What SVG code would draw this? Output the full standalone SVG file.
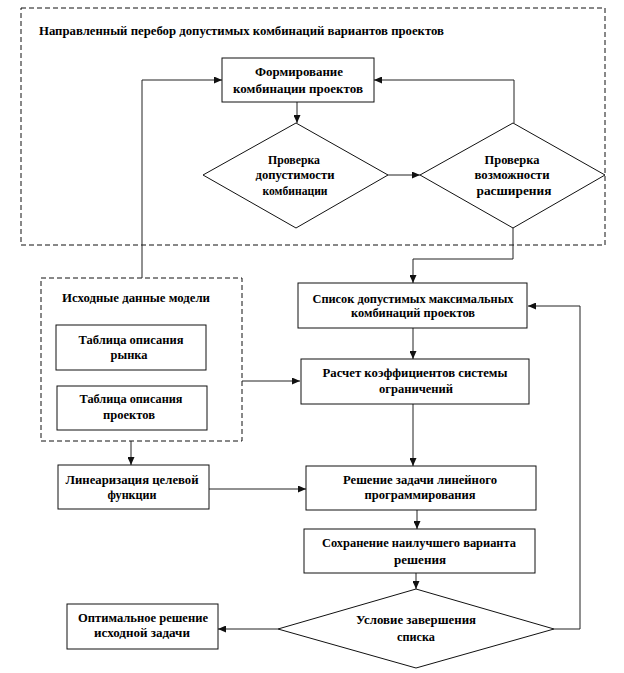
<svg xmlns="http://www.w3.org/2000/svg" width="624" height="673" viewBox="0 0 624 673">
<defs>
<marker id="ah" markerWidth="8" markerHeight="7" refX="8" refY="3.5" orient="auto" markerUnits="userSpaceOnUse">
<path d="M0,0 L8,3.5 L0,7 Z" fill="#111"/>
</marker>
<style>
.b{fill:#fff;stroke:#111;stroke-width:1}
.d{fill:none;stroke:#111;stroke-width:1;stroke-dasharray:5,3}
.c{fill:none;stroke:#222;stroke-width:1}
.a{marker-end:url(#ah)}
text{font-family:"Liberation Serif","Times New Roman",serif;font-weight:bold;font-size:12px;fill:#000;text-anchor:middle}
.l{text-anchor:start}
</style>
</defs>
<rect width="624" height="673" fill="#fff"/>

<g id="frame-search">
<rect class="d" x="21" y="8" width="584" height="237"/>
<text class="l" x="39" y="35" textLength="405" lengthAdjust="spacingAndGlyphs">Направленный перебор допустимых комбинаций вариантов проектов</text>
</g>

<g id="frame-input">
<rect class="d" x="41" y="278" width="201" height="163"/>
<text x="136" y="302" textLength="148" lengthAdjust="spacingAndGlyphs">Исходные данные модели</text>
</g>

<g id="connectors">
<path class="c a" d="M142,278 V80 H222"/>
<path class="c a" d="M514,123 V80 H374"/>
<path class="c a" d="M297,102 V123"/>
<path class="c a" d="M388,175 H420"/>
<path class="c a" d="M513,228 V259 H413 V283"/>
<path class="c a" d="M242,381 H300"/>
<path class="c a" d="M413,328 V359"/>
<path class="c a" d="M413,404 V466"/>
<path class="c a" d="M131,441 V465"/>
<path class="c a" d="M209,489 H306"/>
<path class="c a" d="M417,510 V529"/>
<path class="c a" d="M416,573 V589"/>
<path class="c a" d="M278,629 H218"/>
<path class="c a" d="M554,629 H580 V306 H528"/>
</g>

<g id="n-form">
<rect class="b" x="222" y="58" width="152" height="44"/>
<text x="299" y="76" textLength="88" lengthAdjust="spacingAndGlyphs">Формирование</text>
<text x="298" y="93" textLength="130" lengthAdjust="spacingAndGlyphs">комбинации проектов</text>
</g>

<g id="n-check1">
<polygon class="b" points="296,123 388,175 296,228 203,175"/>
<text x="294" y="164" textLength="52" lengthAdjust="spacingAndGlyphs">Проверка</text>
<text x="295" y="179" textLength="79" lengthAdjust="spacingAndGlyphs">допустимости</text>
<text x="295" y="195" textLength="65" lengthAdjust="spacingAndGlyphs">комбинации</text>
</g>

<g id="n-check2">
<polygon class="b" points="513,123 605,175 513,228 420,175"/>
<text x="512" y="164" textLength="55" lengthAdjust="spacingAndGlyphs">Проверка</text>
<text x="512" y="179" textLength="75" lengthAdjust="spacingAndGlyphs">возможности</text>
<text x="514" y="195" textLength="75" lengthAdjust="spacingAndGlyphs">расширения</text>
</g>

<g id="n-market">
<rect class="b" x="56" y="325" width="150" height="45"/>
<text x="131" y="344" textLength="105" lengthAdjust="spacingAndGlyphs">Таблица описания</text>
<text x="129" y="359" textLength="37" lengthAdjust="spacingAndGlyphs">рынка</text>
</g>

<g id="n-projects">
<rect class="b" x="57" y="386" width="150" height="44"/>
<text x="131" y="403" textLength="103" lengthAdjust="spacingAndGlyphs">Таблица описания</text>
<text x="129" y="419" textLength="52" lengthAdjust="spacingAndGlyphs">проектов</text>
</g>

<g id="n-list">
<rect class="b" x="298" y="283" width="229" height="45"/>
<text x="413" y="303" textLength="201" lengthAdjust="spacingAndGlyphs">Список допустимых максимальных</text>
<text x="413" y="317" textLength="124" lengthAdjust="spacingAndGlyphs">комбинаций проектов</text>
</g>

<g id="n-calc">
<rect class="b" x="301" y="359" width="228" height="45"/>
<text x="415" y="377" textLength="185" lengthAdjust="spacingAndGlyphs">Расчет коэффициентов системы</text>
<text x="416" y="393" textLength="74" lengthAdjust="spacingAndGlyphs">ограничений</text>
</g>

<g id="n-linear">
<rect class="b" x="58" y="465" width="151" height="44"/>
<text x="132" y="484" textLength="133" lengthAdjust="spacingAndGlyphs">Линеаризация целевой</text>
<text x="132" y="499" textLength="49" lengthAdjust="spacingAndGlyphs">функции</text>
</g>

<g id="n-solve">
<rect class="b" x="306" y="466" width="230" height="44"/>
<text x="420" y="484" textLength="154" lengthAdjust="spacingAndGlyphs">Решение задачи линейного</text>
<text x="420" y="499" textLength="111" lengthAdjust="spacingAndGlyphs">программирования</text>
</g>

<g id="n-save">
<rect class="b" x="304" y="529" width="231" height="44"/>
<text x="419" y="547" textLength="194" lengthAdjust="spacingAndGlyphs">Сохранение наилучшего варианта</text>
<text x="420" y="564" textLength="52" lengthAdjust="spacingAndGlyphs">решения</text>
</g>

<g id="n-end">
<polygon class="b" points="416,589 554,629 416,668 278,629"/>
<text x="416" y="624" textLength="120" lengthAdjust="spacingAndGlyphs">Условие завершения</text>
<text x="416" y="641" textLength="38" lengthAdjust="spacingAndGlyphs">списка</text>
</g>

<g id="n-optimal">
<rect class="b" x="67" y="604" width="151" height="45"/>
<text x="143" y="622" textLength="130" lengthAdjust="spacingAndGlyphs">Оптимальное решение</text>
<text x="142" y="637" textLength="96" lengthAdjust="spacingAndGlyphs">исходной задачи</text>
</g>
</svg>
